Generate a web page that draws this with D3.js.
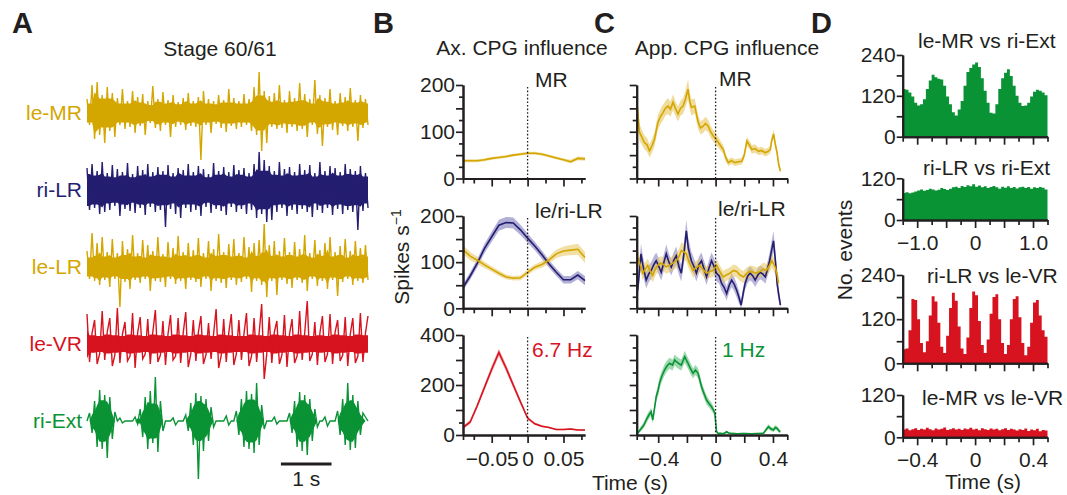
<!DOCTYPE html>
<html>
<head>
<meta charset="utf-8">
<script src="https://cdn.jsdelivr.net/npm/d3@7"></script>
<style>
  body { margin: 0; background: #fff; }
</style>
</head>
<body>
<script>
// ---------- A: raw recordings, signed peak amplitude every 50 ms ----------
const traceNames = ['le-MR', 'ri-LR', 'le-LR', 'le-VR', 'ri-Ext'];
const traceStep = 0.05; // s
const leMR = [14,-12,28,-26,31,-22,18,-30,26,-18,20,-24,15,-12,24,-16,12,-14,22,-20,
  16,-13,19,-22,12,-10,27,-15,14,-18,21,-12,13,-24,18,-14,11,-12,15,-17,
  20,-13,12,-14,16,-47,22,-12,14,-20,12,-11,18,-15,13,-19,24,-13,15,-16,
  12,-14,19,-12,14,-18,26,-22,41,-38,22,-30,17,-14,20,-16,28,-15,13,-20,
  22,-14,15,-18,30,-16,19,-24,14,-12,33,-21,18,-33,15,-14,24,-17,12,-22,
  20,-13,16,-18,25,-14,13,-28,18,-15,14,-12];
const riLR = [22,-20,26,-18,19,-24,28,-22,17,-20,25,-16,21,-26,18,-19,27,-21,16,-23,
  24,-18,20,-25,26,-17,18,-22,23,-20,19,-37,25,-19,17,-24,22,-28,20,-18,
  26,-22,18,-20,24,-26,21,-17,16,-23,27,-19,19,-21,23,-25,18,-17,25,-22,
  20,-19,22,-24,17,-20,26,-28,38,-24,30,-32,24,-30,19,-22,28,-18,21,-26,
  23,-20,18,-24,26,-19,20,-22,25,-27,17,-20,28,-23,19,-18,24,-25,22,-19,
  18,-24,26,-20,21,-22,19,-40,24,-21,17,-18];
const leLR = [16,-12,34,-14,24,-18,30,-13,15,-20,28,-12,14,-40,26,-15,18,-22,32,-13,
  14,-16,27,-12,22,-24,16,-14,30,-15,13,-20,25,-12,19,-17,31,-14,15,-22,
  24,-13,17,-15,29,-20,14,-12,26,-24,18,-14,33,-16,15,-21,23,-13,28,-18,
  14,-15,30,-12,20,-25,24,-14,27,-18,43,-30,22,-14,26,-28,16,-13,29,-17,
  15,-21,25,-13,18,-16,32,-24,14,-12,27,-19,17,-14,24,-22,30,-13,15,-29,
  21,-15,28,-12,16,-18,26,-14,19,-16,22,-13];
const leVR = [30,-18,11,24,-20,-10,33,-16,12,26,-22,-11,36,-19,10,22,-17,-12,31,-24,11,27,-15,-10,25,-20,12,34,-18,-11,
  23,-21,10,29,-16,-12,26,-19,11,32,-23,-10,24,-17,12,28,-20,-11,21,-15,10,35,-24,-12,25,-18,11,30,-21,-10,
  24,-16,10,31,-22,-12,26,-18,11,40,-35,-10,27,-19,12,23,-20,-11,29,-23,10,25,-19,-12,33,-16,11,43,-17,-10,
  22,-21,11,28,-18,-10,30,-20,12,24,-17,-11,27,-22,10,26,-19,-12,31,-18,11,28];
const riExt = [0,
  8,-12,20,-26,31,-28,26,-37,24,-18,9,
  0,3,-2,0,0,0,0,4,-3,
  12,-16,24,-28,30,-22,44,-31,20,-10,
  0,0,0,3,-4,0,0,0,
  6,-10,18,-24,28,-58,25,-30,22,-20,14,-6,
  0,0,0,0,5,-4,0,0,
  10,-14,22,-26,30,-28,27,-32,38,-24,16,-8,
  0,0,0,4,-3,0,0,0,0,
  8,-12,20,-26,29,-30,26,-34,22,-20,12,-6,
  0,0,4,-5,0,0,0,
  10,-14,22,-24,38,-29,26,-27,20,-14,8,
  4,0];
const traceValues = [leMR, riLR, leLR, leVR, riExt];

// ---------- B: axial CPG influence (time s, mean, sem) ----------
const axTime = [-0.09,-0.08,-0.07,-0.06,-0.05,-0.04,-0.03,-0.02,-0.01,0,0.01,0.02,0.03,0.04,0.05,0.06,0.07,0.08];
const axMR = [38,38,38,40,43,45,47,50,52,54,54,52,48,44,40,36,43,42];
const axMRsem = [3,3,3,3,3,3,3,3,3,3,3,3,3,3,3,4,4,4];
const axRiLR = [45,70,98,130,155,180,186,185,170,152,135,116,96,78,62,62,72,60];
const axRiLRsem = [7,8,9,10,11,12,12,12,11,10,9,9,8,8,8,8,9,10];
const axLeLR = [127,113,104,94,85,76,68,65,66,78,89,95,105,118,124,126,128,110];
const axLeLRsem = [10,9,8,7,6,6,5,5,5,6,6,7,8,9,10,11,12,12];
const axVR = [30,52,118,191,263,330,268,200,133,68,45,35,30,22,22,24,20,20];
const axVRsem = [6,8,10,12,14,15,14,12,10,6,5,4,3,3,3,4,3,3];

// ---------- C: appendicular CPG influence [time s, mean, sem] ----------
const appMR = [[-0.55,170,20],[-0.531,99,18],[-0.513,88,16],[-0.496,77,15],[-0.478,72,15],[-0.461,59,14],
  [-0.443,70,15],[-0.426,84,15],[-0.402,120,16],[-0.385,132,16],[-0.367,141,17],[-0.35,150,16],[-0.332,155,17],
  [-0.315,148,16],[-0.297,163,17],[-0.28,150,16],[-0.262,138,16],[-0.245,150,16],[-0.227,155,17],[-0.21,170,18],
  [-0.192,191,22],[-0.18,165,18],[-0.168,152,17],[-0.145,155,16],[-0.121,120,15],[-0.105,108,14],[-0.086,112,14],
  [-0.07,118,14],[-0.051,112,13],[-0.035,100,13],[-0.016,91,12],[0,85,12],[0.019,77,11],[0.035,70,10],[0.054,62,9],
  [0.07,45,8],[0.089,34,7],[0.11,38,7],[0.136,34,7],[0.16,36,7],[0.183,37,7],[0.2,50,8],[0.218,80,10],[0.235,72,9],
  [0.253,62,9],[0.275,64,9],[0.3,58,8],[0.32,60,8],[0.347,55,8],[0.365,58,8],[0.382,62,8],[0.39,80,9],[0.405,95,10],
  [0.415,75,9],[0.429,55,8],[0.44,30,7],[0.452,16,6]];
const appRiLR = [[-0.543,39,20],[-0.52,118,22],[-0.508,95,20],[-0.484,61,18],[-0.465,75,18],[-0.449,82,18],
  [-0.43,95,18],[-0.414,103,18],[-0.395,90,18],[-0.379,78,18],[-0.36,100,18],[-0.344,118,20],[-0.325,100,18],
  [-0.309,89,18],[-0.29,105,18],[-0.274,114,20],[-0.255,90,18],[-0.239,76,18],[-0.22,120,22],[-0.204,168,24],
  [-0.19,130,22],[-0.169,103,20],[-0.15,90,18],[-0.134,76,18],[-0.115,95,18],[-0.098,103,18],[-0.08,85,18],
  [-0.063,68,18],[-0.045,88,18],[-0.028,103,18],[-0.01,90,18],[0.007,76,18],[0.025,70,16],[0.042,54,16],
  [0.06,45,16],[0.077,32,15],[0.095,50,15],[0.112,61,15],[0.13,52,15],[0.147,39,15],[0.162,25,14],[0.178,7,12],
  [0.194,35,14],[0.206,54,14],[0.224,70,15],[0.241,76,15],[0.26,70,15],[0.276,61,15],[0.295,72,15],[0.311,78,15],
  [0.33,74,15],[0.347,68,15],[0.362,85,16],[0.377,103,18],[0.39,125,20],[0.404,146,22],[0.418,100,20],
  [0.429,54,16],[0.44,30,14],[0.452,7,10]];
const appLeLR = [[-0.543,110,16],[-0.52,90,15],[-0.508,76,15],[-0.49,85,15],[-0.473,93,15],[-0.455,80,15],
  [-0.438,71,15],[-0.42,85,15],[-0.403,93,15],[-0.385,98,15],[-0.368,96,15],[-0.345,90,15],[-0.321,93,15],
  [-0.3,98,16],[-0.274,103,16],[-0.255,112,17],[-0.239,125,18],[-0.22,122,18],[-0.204,118,17],[-0.185,100,16],
  [-0.157,82,15],[-0.135,88,15],[-0.11,93,15],[-0.09,85,15],[-0.063,76,14],[-0.04,80,14],[-0.017,82,14],
  [0.007,93,14],[0.03,80,13],[0.053,68,13],[0.075,72,13],[0.1,76,13],[0.125,82,13],[0.147,80,13],[0.17,72,13],
  [0.194,68,13],[0.215,75,13],[0.241,80,13],[0.265,78,13],[0.288,76,13],[0.31,80,13],[0.334,85,14],[0.355,82,14],
  [0.369,89,14],[0.393,103,15],[0.416,89,15],[0.428,75,14],[0.439,54,13]];
const appExt = [[-0.543,8,6],[-0.52,25,10],[-0.5,40,12],[-0.484,60,14],[-0.465,80,15],[-0.449,93,16],[-0.438,60,14],
  [-0.425,110,18],[-0.414,153,20],[-0.4,180,22],[-0.391,207,22],[-0.375,235,22],[-0.356,260,22],[-0.34,275,22],
  [-0.321,287,22],[-0.3,280,22],[-0.285,300,22],[-0.274,293,22],[-0.255,285,22],[-0.239,280,22],[-0.225,300,22],
  [-0.215,313,24],[-0.2,295,22],[-0.192,287,22],[-0.175,265,22],[-0.157,247,20],[-0.14,260,20],[-0.122,247,20],
  [-0.11,220,20],[-0.098,193,20],[-0.08,165,18],[-0.063,140,18],[-0.045,125,16],[-0.028,113,16],[-0.015,100,14],
  [-0.005,87,12],[0.007,13,6],[0.02,5,4],[0.03,7,4],[0.05,5,4],[0.065,8,4],[0.077,13,5],[0.09,8,4],[0.1,7,4],
  [0.15,5,3],[0.194,6,3],[0.25,5,3],[0.3,6,3],[0.334,7,4],[0.35,20,8],[0.369,33,10],[0.385,25,9],[0.404,20,8],
  [0.415,30,10],[0.428,27,9],[0.44,18,8],[0.451,13,6]];

// ---------- D: cross-correlation histograms (counts per bin) ----------
const ccMRvsExt = [140,138,130,118,100,92,95,110,140,165,182,175,170,168,150,118,95,72,62,80,
  105,150,190,202,212,218,205,172,135,100,70,68,95,140,172,188,198,178,150,120,
  100,90,92,100,118,132,138,135,130,122];
const ccLRvsExt = [78,80,77,79,82,85,88,84,86,90,88,85,87,92,89,86,90,94,96,92,
  98,95,100,97,103,96,99,94,97,92,95,98,94,90,96,93,97,92,95,91,
  94,96,92,95,90,94,92,95,93,88];
const ccLRvsVR = [38,40,90,175,172,120,55,30,60,130,182,168,110,45,28,75,150,192,170,100,
  40,25,70,150,195,185,115,50,28,65,135,180,188,120,55,25,50,120,175,182,
  125,55,22,45,110,165,172,130,90,72];
const ccMRvsVR = [22,25,20,23,26,21,24,22,27,23,20,25,22,24,28,21,23,26,22,24,
  21,25,23,27,22,24,20,26,23,21,25,22,24,20,23,26,21,24,22,19,
  23,21,25,18,22,20,24,17,21,19];

// ---------- style ----------
const ink = '#231f20';
const fontFam = '"Liberation Sans", Arial, Helvetica, sans-serif';
const fs = 21;
const gold = '#d4a600', navy = '#241e71', red = '#d7131f', green = '#0a9335';
const traceColors = [gold, navy, gold, red, green];

const svg = d3.select('body').append('svg')
  .attr('width', 1067).attr('height', 495)
  .style('font-family', fontFam);

function label(x, y, s, o = {}) {
  return svg.append('text').attr('x', x).attr('y', y)
    .attr('font-size', o.size || fs)
    .attr('font-weight', o.weight || null)
    .attr('text-anchor', o.anchor || 'start')
    .attr('fill', o.color || ink)
    .text(s);
}

// panel letters and titles
label(12, 33, 'A', {size: 29, weight: 'bold'});
label(373, 33, 'B', {size: 29, weight: 'bold'});
label(594, 33, 'C', {size: 29, weight: 'bold'});
label(811, 33, 'D', {size: 29, weight: 'bold'});
label(220, 56, 'Stage 60/61', {anchor: 'middle'});
label(522, 55, 'Ax. CPG influence', {anchor: 'middle'});
label(727, 55, 'App. CPG influence', {anchor: 'middle'});

// ---------- panel A ----------
const xA = d3.scaleLinear().domain([0, (leMR.length - 1) * traceStep]).range([87, 368]);
const rowA = d3.scalePoint().domain(traceNames).range([113, 421]);
const yTr = d3.scaleLinear().domain([-50, 50]).range([50, -50]);

traceNames.forEach((name, k) => {
  const vals = traceValues[k];
  const g = svg.append('g').attr('transform', `translate(0,${rowA(name)})`);
  // dense core of the recording: bounded by the smaller neighbouring peaks
  const core = vals.map((v, i, a) =>
    0.8 * d3.min([a[i - 1], v, a[i + 1]].filter(d => d !== undefined), d => Math.abs(d)));
  g.append('path').datum(core)
    .attr('d', d3.area().x((d, i) => xA(i * traceStep)).y0(d => yTr(-d)).y1(d => yTr(d)))
    .attr('fill', traceColors[k]);
  g.append('path').datum(vals)
    .attr('d', d3.line().x((d, i) => xA(i * traceStep)).y(d => yTr(d)))
    .attr('fill', 'none').attr('stroke', traceColors[k]).attr('stroke-width', 1.4);
  g.append('text').attr('x', 82).attr('y', 0).attr('dy', '0.33em')
    .attr('text-anchor', 'end').attr('font-size', fs).attr('fill', traceColors[k]).text(name);
});

// scale bar 1 s
svg.append('line').attr('x1', xA(3.83)).attr('x2', xA(4.83)).attr('y1', 464).attr('y2', 464)
  .attr('stroke', ink).attr('stroke-width', 3);
label((xA(3.83) + xA(4.83)) / 2, 486, '1 s', {anchor: 'middle'});

// ---------- axis helper ----------
function axis(g, make, scale, majors, minors, labels, fmt, majLen, minLen, pad) {
  const style = sel => {
    sel.attr('font-size', fs).attr('font-family', fontFam);
    sel.select('.domain').attr('stroke', ink).attr('stroke-width', 2);
    sel.selectAll('.tick line').attr('stroke', ink).attr('stroke-width', 1.7);
    sel.selectAll('.tick text').attr('fill', ink);
  };
  g.append('g').call(make(scale).tickValues(minors).tickSize(minLen).tickSizeOuter(0).tickFormat('')).call(style);
  g.append('g').call(make(scale).tickValues(majors).tickSize(majLen).tickSizeOuter(0).tickPadding(pad)
    .tickFormat(d => labels.includes(d) ? fmt(d) : '')).call(style);
}
const signed = dec => d => d === 0 ? '0' : (d < 0 ? '\u2212' : '') + Math.abs(d).toFixed(dec);

// ---------- panels B and C ----------
const xB = d3.scaleLinear().domain([-0.09, 0.08]).range([463, 585]);
const xC = d3.scaleLinear().domain([-0.55, 0.5]).range([636.7, 787.3]);
const rowTop = [85, 216, 335], rowBottom = [178.5, 308.3, 435], rowMax = [200, 200, 400];

function bandPlot(x, row, series, o) {
  const y = d3.scaleLinear().domain([0, rowMax[row]]).range([rowBottom[row], rowTop[row]]);
  const g = svg.append('g');
  series.forEach(s => {
    g.append('path').datum(s.data)
      .attr('d', d3.area().x(d => x(d[0])).y0(d => y(Math.max(0, d[1] - d[2]))).y1(d => y(d[1] + d[2])))
      .attr('fill', s.fill).attr('fill-opacity', s.op || 0.6);
  });
  series.forEach(s => {
    g.append('path').datum(s.data)
      .attr('d', d3.line().x(d => x(d[0])).y(d => y(d[1])))
      .attr('fill', 'none').attr('stroke', s.color).attr('stroke-width', 1.6);
  });
  // dotted zero line
  g.append('line').attr('x1', x(0)).attr('x2', x(0)).attr('y1', rowTop[row] + 2).attr('y2', rowBottom[row])
    .attr('stroke', ink).attr('stroke-width', 1.3).attr('stroke-dasharray', '1.6,2');
  const yMaj = rowMax[row] === 400 ? [0, 100, 200, 300, 400] : [0, 50, 100, 150, 200];
  const yMin = rowMax[row] === 400 ? [50, 150, 250, 350] : [25, 75, 125, 175];
  const yLab = rowMax[row] === 400 ? [0, 200, 400] : [0, 100, 200];
  axis(g.append('g').attr('transform', `translate(${x.range()[0]},0)`), d3.axisLeft, y,
    yMaj, yMin, o.yLabels ? yLab : [], d => d, 7, 4, 1);
  axis(g.append('g').attr('transform', `translate(0,${rowBottom[row]})`), d3.axisBottom, x,
    o.xMaj, o.xMin, row === 2 ? o.xLab : [], o.fmt, 8, 5, 8);
  if (o.tag) label(o.tag.x, o.tag.y, o.tag.text, {color: o.tag.color || ink});
}

const zipB = (m, s) => d3.zip(axTime, m, s);
const bOpts = {xMaj: [-0.05, 0, 0.05], xMin: [-0.09, -0.075, -0.025, 0.025, 0.075], xLab: [-0.05, 0, 0.05], fmt: signed(2), yLabels: true};
const cOpts = {xMaj: [-0.4, -0.2, 0, 0.2, 0.4], xMin: [-0.55, -0.5, -0.3, -0.1, 0.1, 0.3, 0.5], xLab: [-0.4, 0, 0.4], fmt: signed(1), yLabels: false};

const blueFill = '#7f7abb', goldFill = '#e6c45c', redFill = '#e7737c', greenFill = '#5cbf78';

bandPlot(xB, 0, [{data: zipB(axMR, axMRsem), color: gold, fill: goldFill}],
  {...bOpts, tag: {x: 535, y: 87, text: 'MR'}});
bandPlot(xB, 1, [{data: zipB(axRiLR, axRiLRsem), color: navy, fill: blueFill},
                 {data: zipB(axLeLR, axLeLRsem), color: gold, fill: goldFill, op: 0.55}],
  {...bOpts, tag: {x: 535, y: 218, text: 'le/ri-LR'}});
bandPlot(xB, 2, [{data: zipB(axVR, axVRsem), color: red, fill: redFill}],
  {...bOpts, tag: {x: 532, y: 357, text: '6.7 Hz', color: red}});

bandPlot(xC, 0, [{data: appMR, color: gold, fill: goldFill}],
  {...cOpts, tag: {x: 719, y: 86, text: 'MR'}});
bandPlot(xC, 1, [{data: appRiLR, color: navy, fill: blueFill, op: 0.55},
                 {data: appLeLR, color: gold, fill: goldFill, op: 0.55}],
  {...cOpts, tag: {x: 718, y: 216, text: 'le/ri-LR'}});
bandPlot(xC, 2, [{data: appExt, color: green, fill: greenFill}],
  {...cOpts, tag: {x: 722, y: 357, text: '1 Hz', color: green}});

// y label B
const yl = svg.append('text').attr('transform', 'translate(409,257) rotate(-90)')
  .attr('text-anchor', 'middle').attr('font-size', fs).attr('fill', ink).text('Spikes s');
yl.append('tspan').attr('dy', -8).attr('font-size', 14).text('\u22121');
label(630, 490, 'Time (s)', {anchor: 'middle'});

// ---------- panel D ----------
const xD1 = d3.scaleLinear().domain([-1.25, 1.25]).range([902.7, 1047.5]);
const xD2 = d3.scaleLinear().domain([-0.5, 0.5]).range([902.7, 1047.5]);
const dTop = [55, 178.3, 275, 395], dBottom = [136.7, 220, 363.3, 437.3], dMax = [240, 120, 240, 120];
const dHists = [
  {vals: ccMRvsExt, x: xD1, color: green, title: 'le-MR vs ri-Ext', tx: 918, ty: 48},
  {vals: ccLRvsExt, x: xD1, color: green, title: 'ri-LR vs ri-Ext', tx: 923, ty: 175, xLab: true},
  {vals: ccLRvsVR, x: xD2, color: red, title: 'ri-LR vs le-VR', tx: 927, ty: 283},
  {vals: ccMRvsVR, x: xD2, color: red, title: 'le-MR vs le-VR', tx: 922, ty: 405, xLab: true}
];
dHists.forEach((h, r) => {
  const y = d3.scaleLinear().domain([0, dMax[r]]).range([dBottom[r], dTop[r]]);
  const [d0, d1] = h.x.domain();
  const bw = (d1 - d0) / h.vals.length;
  const g = svg.append('g');
  // histogram as one stepped outline so neighbouring bins have no seams
  const steps = h.vals.flatMap((v, i) => [[d0 + i * bw, v], [d0 + (i + 1) * bw, v]]);
  g.append('path').datum(steps)
    .attr('d', d3.area().x(d => h.x(d[0])).y0(y(0)).y1(d => y(d[1])))
    .attr('fill', h.color);
  const yT = dMax[r] === 240 ? [0, 60, 120, 180, 240] : [0, 60, 120];
  axis(g.append('g').attr('transform', `translate(${h.x.range()[0]},0)`), d3.axisLeft, y,
    yT, [], dMax[r] === 240 ? [0, 120, 240] : [0, 120], d => d, 6, 4, 1);
  const wide = h.x === xD1;
  axis(g.append('g').attr('transform', `translate(0,${dBottom[r]})`), d3.axisBottom, h.x,
    wide ? [-1, -0.5, 0, 0.5, 1] : [-0.4, -0.2, 0, 0.2, 0.4],
    wide ? [-1.25, -0.75, -0.25, 0.25, 0.75, 1.25] : [-0.5, -0.3, -0.1, 0.1, 0.3, 0.5],
    h.xLab ? (wide ? [-1, 0, 1] : [-0.4, 0, 0.4]) : [], signed(1), 8, 5, 7);
  label(h.tx, h.ty, h.title);
});
svg.append('text').attr('transform', 'translate(852,250) rotate(-90)')
  .attr('text-anchor', 'middle').attr('font-size', fs).attr('fill', ink).text('No. events');
label(983, 489, 'Time (s)', {anchor: 'middle'});
</script>
</body>
</html>
